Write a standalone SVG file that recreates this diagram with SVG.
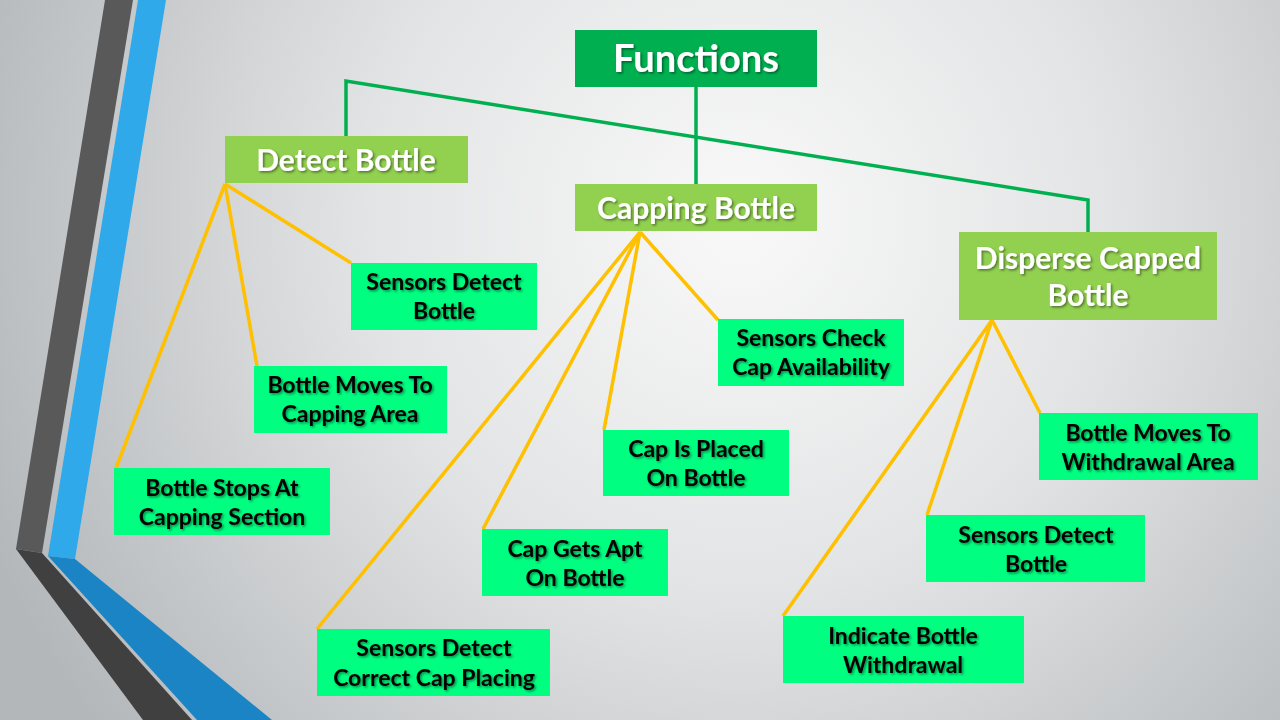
<svg xmlns="http://www.w3.org/2000/svg" width="1280" height="720" viewBox="0 0 1280 720">
<defs>
<radialGradient id="bg" gradientUnits="userSpaceOnUse" cx="740" cy="220" r="820">
<stop offset="0" stop-color="#f9f9f9"/>
<stop offset="0.45" stop-color="#e3e4e5"/>
<stop offset="1" stop-color="#b3b7ba"/>
</radialGradient>
<filter id="sh" x="-10%" y="-20%" width="130%" height="150%">
<feDropShadow dx="1.5" dy="1.5" stdDeviation="0.8" flood-color="#000" flood-opacity="0.45"/>
</filter>
</defs>
<style>
.top{fill:#00b050}
.mid{fill:#92d050}
.leaf{fill:#00ff80}
.tw{font-family:Lato,"Open Sans","Liberation Sans",sans-serif;font-weight:bold;fill:#fff;text-anchor:middle;filter:url(#sh)}
.tb{font-family:Lato,"Open Sans","Liberation Sans",sans-serif;font-weight:bold;fill:#000;text-anchor:middle;font-size:23px;filter:url(#sh)}
.g{stroke:#00b050;stroke-width:3.5;fill:none}
.y{stroke:#ffc000;stroke-width:3.5;fill:none}
</style>
<rect width="1280" height="720" fill="url(#bg)"/>
<g id="decoration">
<polygon points="105,0 133,0 42,553 16,549" fill="#595959"/>
<polygon points="16,549 42,553 192,720 143,720" fill="#404040"/>
<polygon points="138,0 166,0 75,559 48,556" fill="#2fa9ea"/>
<polygon points="48,556 75,559 272,720 197,720" fill="#1a84c4"/>
</g>
<g id="connectors">
<line class="g" x1="696" y1="87" x2="696" y2="184"/>
<polyline class="g" points="346,136 346,81 1088,200 1088,232"/>
<line class="y" x1="225" y1="184" x2="351" y2="263"/>
<line class="y" x1="225" y1="184" x2="257" y2="366"/>
<line class="y" x1="225" y1="184" x2="116" y2="468"/>
<line class="y" x1="640" y1="232" x2="718" y2="320"/>
<line class="y" x1="640" y1="232" x2="604" y2="430"/>
<line class="y" x1="640" y1="232" x2="483" y2="529"/>
<line class="y" x1="640" y1="232" x2="317" y2="629"/>
<line class="y" x1="992" y1="320" x2="1040" y2="413"/>
<line class="y" x1="992" y1="320" x2="927" y2="515"/>
<line class="y" x1="992" y1="320" x2="783" y2="616"/>
</g>
<g id="functions">
<rect class="top" x="575" y="30" width="242" height="57"/>
<text class="tw" x="696" y="72" font-size="38">Functions</text>
</g>
<g id="detect-bottle">
<rect class="mid" x="225" y="136" width="243" height="47"/>
<text class="tw" x="346" y="171" font-size="30">Detect Bottle</text>
</g>
<g id="capping-bottle">
<rect class="mid" x="575" y="184" width="242" height="47"/>
<text class="tw" x="696" y="219" font-size="30">Capping Bottle</text>
</g>
<g id="disperse-capped-bottle">
<rect class="mid" x="959" y="232" width="258" height="88"/>
<text class="tw" x="1088" y="269" font-size="30">Disperse Capped</text>
<text class="tw" x="1088" y="306" font-size="30">Bottle</text>
</g>
<g id="sensors-detect-bottle-1">
<rect class="leaf" x="351" y="263" width="186" height="67"/>
<text class="tb" x="444" y="290">Sensors Detect</text>
<text class="tb" x="444" y="319">Bottle</text>
</g>
<g id="bottle-moves-to-capping-area">
<rect class="leaf" x="254" y="366" width="193" height="67"/>
<text class="tb" x="350" y="393">Bottle Moves To</text>
<text class="tb" x="350" y="422">Capping Area</text>
</g>
<g id="bottle-stops-at-capping-section">
<rect class="leaf" x="114" y="468" width="216" height="67"/>
<text class="tb" x="222" y="496">Bottle Stops At</text>
<text class="tb" x="222" y="525">Capping Section</text>
</g>
<g id="sensors-check-cap-availability">
<rect class="leaf" x="718" y="319" width="186" height="67"/>
<text class="tb" x="811" y="346">Sensors Check</text>
<text class="tb" x="811" y="375">Cap Availability</text>
</g>
<g id="cap-is-placed-on-bottle">
<rect class="leaf" x="603" y="430" width="186" height="66"/>
<text class="tb" x="696" y="457">Cap Is Placed</text>
<text class="tb" x="696" y="486">On Bottle</text>
</g>
<g id="cap-gets-apt-on-bottle">
<rect class="leaf" x="482" y="529" width="186" height="67"/>
<text class="tb" x="575" y="557">Cap Gets Apt</text>
<text class="tb" x="575" y="586">On Bottle</text>
</g>
<g id="sensors-detect-correct-cap-placing">
<rect class="leaf" x="317" y="629" width="233" height="67"/>
<text class="tb" x="434" y="656">Sensors Detect</text>
<text class="tb" x="434" y="686">Correct Cap Placing</text>
</g>
<g id="bottle-moves-to-withdrawal-area">
<rect class="leaf" x="1039" y="413" width="219" height="67"/>
<text class="tb" x="1148" y="441">Bottle Moves To</text>
<text class="tb" x="1148" y="470">Withdrawal Area</text>
</g>
<g id="sensors-detect-bottle-2">
<rect class="leaf" x="926" y="515" width="219" height="67"/>
<text class="tb" x="1036" y="543">Sensors Detect</text>
<text class="tb" x="1036" y="572">Bottle</text>
</g>
<g id="indicate-bottle-withdrawal">
<rect class="leaf" x="783" y="616" width="241" height="67"/>
<text class="tb" x="903" y="644">Indicate Bottle</text>
<text class="tb" x="903" y="673">Withdrawal</text>
</g>
</svg>
